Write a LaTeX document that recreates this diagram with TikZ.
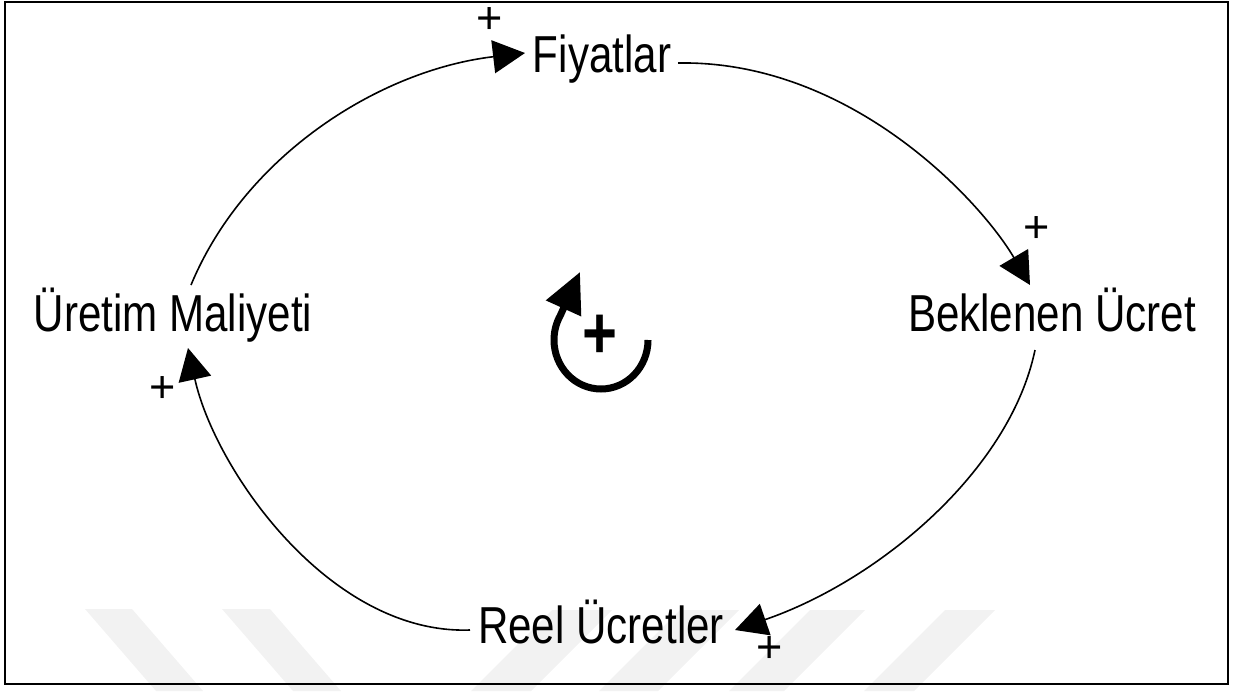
\documentclass[tikz,border=0pt]{standalone}
\usepackage{fontspec}
\setmainfont{Liberation Sans}
\usetikzlibrary{arrows.meta}
\newcommand{\cond}[1]{\scalebox{0.81}[1]{#1}}
\begin{document}
\begin{tikzpicture}[x=1pt,y=-1pt,
  lbl/.style={inner sep=0pt, anchor=base, font=\fontsize{52}{56}\selectfont},
  pol/.style={inner sep=0pt, font=\fontsize{45}{47}\selectfont},
  conn/.style={line width=1.6pt, -{Triangle[length=32pt,width=33pt]}},
  wm/.style={fill=black!5}]
\useasboundingbox (0,0) rectangle (1234,691);
% watermark bands
\fill[wm] (85,609) -- (132,609) -- (203,691) -- (156,691) -- cycle;
\fill[wm] (222,609) -- (270,609) -- (341,691) -- (293,691) -- cycle;
\fill[wm] (552,610) -- (612,610) -- (531,691) -- (471,691) -- cycle;
\fill[wm] (680,610) -- (739,610) -- (658,691) -- (599,691) -- cycle;
\fill[wm] (810,610) -- (865,610) -- (784,691) -- (729,691) -- cycle;
\fill[wm] (945,610) -- (995,610) -- (914,691) -- (864,691) -- cycle;
% frame
\draw[line width=2.5pt] (5,2) rectangle (1228,684);
% variables
\node[lbl] (fiy) at (602,72) {\cond{Fiyatlar}};
\node[lbl] (bek) at (1052,331) {\cond{Beklenen Ücret}};
\node[lbl] (reel) at (601,643) {\cond{Reel Ücretler}};
\node[lbl] (ure) at (173,331) {\cond{Üretim Maliyeti}};
% connector end points
\coordinate (ureT) at (191,285);
\coordinate (fiyL) at (525,53);
\coordinate (fiyR) at (678,63);
\coordinate (bekT) at (1030,285);
\coordinate (bekB) at (1035,350);
\coordinate (reelR) at (735,630);
\coordinate (reelL) at (470,630);
\coordinate (ureB) at (188,348);
% connectors
\draw[conn] (ureT) .. controls (245,155) and (380,70) .. (fiyL);
\draw[conn] (fiyR) .. controls (850,60) and (980,200) .. (bekT);
\draw[conn] (bekB) .. controls (1010,470) and (880,580) .. (reelR);
\draw[conn] (reelL) .. controls (330,635) and (215,470) .. (ureB);
% polarities
\node[pol] (p1) at (490,21) {+};
\node[pol] (p2) at (1037,230) {+};
\node[pol] (p3) at (770,650) {+};
\node[pol] (p4) at (163,390) {+};
% loop symbol
\draw[line width=7pt, -{Triangle[length=40pt,width=37pt]}] (648,340) arc[start angle=0, end angle=210, x radius=47, y radius=49] -- (580,272);
\node[inner sep=0pt, anchor=base, font=\fontsize{74}{80}\selectfont\bfseries] (lp) at (600,358) {\scalebox{0.81}[1]{+}};
\end{tikzpicture}
\end{document}
